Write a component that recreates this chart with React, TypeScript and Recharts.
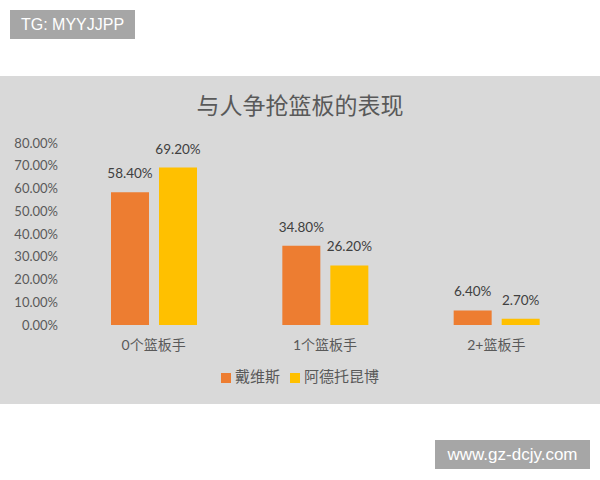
import { Bar, BarChart, LabelList, Legend, XAxis, YAxis } from "recharts";

const categories = ["0个篮板手", "1个篮板手", "2+篮板手"];
const davis = [58.4, 34.8, 6.4];
const giannis = [69.2, 26.2, 2.7];
const yTicks = [0, 10, 20, 30, 40, 50, 60, 70, 80];

const data = categories.map((name, i) => ({ name, davis: davis[i], giannis: giannis[i] }));

const pct = (v: any) => `${Number(v).toFixed(2)}%`;
const FONT = 'Lato, "Noto Sans CJK SC", sans-serif';

const App = () => {
  return (
    <div style={{ position: "absolute", left: 0, top: 0, width: 600, height: 480, background: "#fff", fontFamily: FONT }}>
      <div style={{ position: "absolute", left: 10, top: 10, width: 125, height: 29, background: "#a6a6a6", color: "#fff", fontFamily: '"Liberation Sans", Arial, sans-serif', fontSize: 16, lineHeight: "29px", textAlign: "center" }}>
        TG: MYYJJPP
      </div>
      <div style={{ position: "absolute", left: 0, top: 76, width: 600, height: 328, background: "#d9d9d9" }}>
        <div style={{ position: "absolute", left: 0, top: 14, width: 600, textAlign: "center", fontSize: 23, color: "#595959", fontFamily: '"Noto Sans CJK SC", sans-serif', lineHeight: "28px" }}>
          与人争抢篮板的表现
        </div>
        <BarChart width={600} height={328} data={data} margin={{ top: 67, right: 18, left: 0, bottom: 18 }} barSize={38} barGap={10}>
          <XAxis dataKey="name" axisLine={false} tickLine={false} tickSize={0} tickMargin={15} height={41} tick={{ fontSize: 14, fill: "#595959", fontFamily: FONT }} />
          <YAxis domain={[0, 80]} ticks={yTicks} tickFormatter={pct} axisLine={false} tickLine={false} tickSize={0} tickMargin={10} width={68} tick={{ fontSize: 13, fill: "#595959", fontFamily: FONT }} />
          <Legend verticalAlign="bottom" iconType="square" iconSize={10} wrapperStyle={{ fontSize: 15, lineHeight: "20px", left: 14 }} formatter={(v: any) => <span style={{ color: "#595959" }}>{v}</span>} />
          <Bar dataKey="davis" name="戴维斯" fill="#ED7D31" isAnimationActive={false}>
            <LabelList dataKey="davis" position="top" offset={14} formatter={pct} style={{ fontSize: 13.5, fill: "#404040", fontFamily: FONT }} />
          </Bar>
          <Bar dataKey="giannis" name="阿德托昆博" fill="#FFC000" isAnimationActive={false}>
            <LabelList dataKey="giannis" position="top" offset={14} formatter={pct} style={{ fontSize: 13.5, fill: "#404040", fontFamily: FONT }} />
          </Bar>
        </BarChart>
      </div>
      <div style={{ position: "absolute", left: 435, top: 440, width: 155, height: 29, background: "#a6a6a6", color: "#fff", fontFamily: '"Liberation Sans", Arial, sans-serif', fontSize: 17, lineHeight: "29px", textAlign: "center" }}>
        www.gz-dcjy.com
      </div>
    </div>
  );
};

export default App;
